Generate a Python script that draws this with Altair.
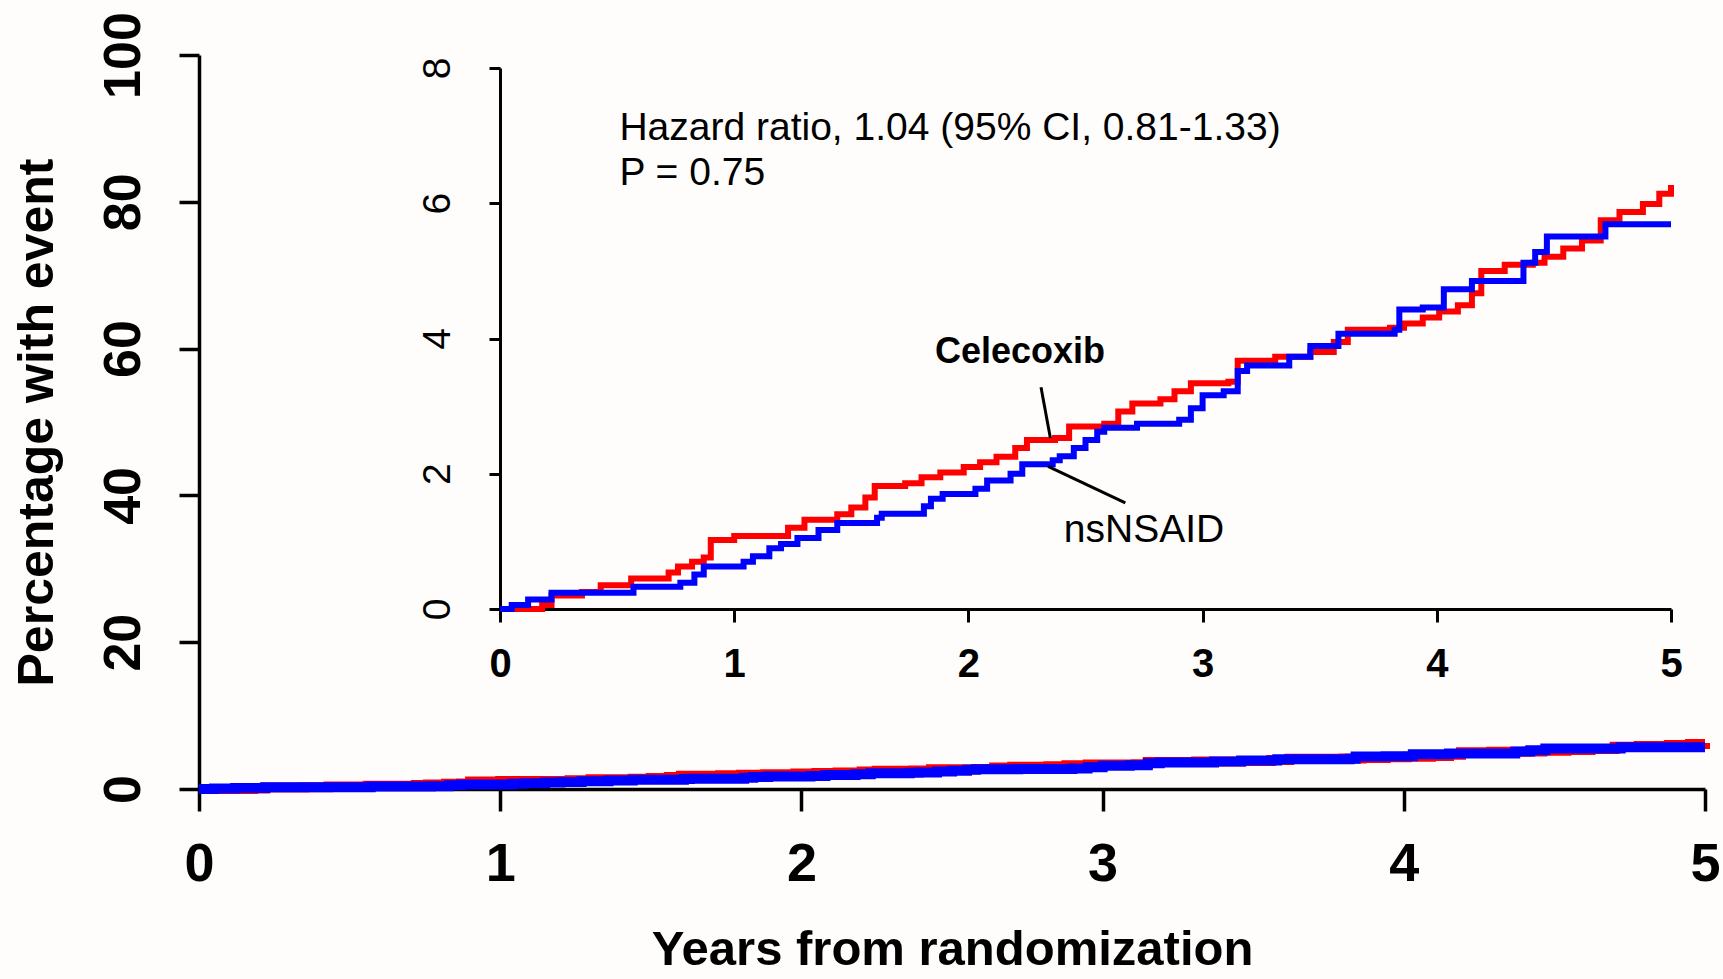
import altair as alt
import pandas as pd

# ---- data ----
cel_t = [0, 0.18, 0.22, 0.35, 0.43, 0.56, 0.72, 0.76, 0.82, 0.87, 0.90, 1.00, 1.23, 1.30, 1.44, 1.50,
         1.56, 1.60, 1.73, 1.80, 1.88, 1.98, 2.05, 2.12, 2.20, 2.25, 2.37, 2.43, 2.58, 2.64, 2.70,
         2.82, 2.88, 2.95, 3.11, 3.15, 3.31, 3.46, 3.56, 3.62, 3.80, 3.86, 3.94, 4.01, 4.09, 4.15,
         4.19, 4.29, 4.41, 4.46, 4.54, 4.62, 4.70, 4.78, 4.88, 4.95, 5.00]
cel_v = [0, 0.06, 0.20, 0.25, 0.35, 0.45, 0.54, 0.63, 0.70, 0.76, 1.02, 1.08, 1.20, 1.32, 1.40, 1.50,
         1.65, 1.82, 1.86, 1.95, 2.02, 2.10, 2.17, 2.25, 2.38, 2.50, 2.53, 2.70, 2.74, 2.92, 3.04,
         3.10, 3.22, 3.34, 3.36, 3.67, 3.73, 3.80, 3.95, 4.13, 4.16, 4.22, 4.31, 4.40, 4.49, 4.67,
         5.00, 5.09, 5.12, 5.21, 5.33, 5.45, 5.75, 5.87, 5.99, 6.14, 6.27]

ns_t = [0, 0.05, 0.12, 0.22, 0.57, 0.77, 0.83, 0.87, 1.04, 1.08, 1.15, 1.20, 1.27, 1.36, 1.44, 1.61,
        1.63, 1.81, 1.84, 1.89, 2.03, 2.08, 2.18, 2.23, 2.36, 2.39, 2.45, 2.50, 2.55, 2.58, 2.72,
        2.90, 2.95, 3.00, 3.09, 3.15, 3.19, 3.37, 3.46, 3.58, 3.82, 3.84, 3.94, 4.03, 4.15, 4.37,
        4.42, 4.47, 4.72, 5.00]
ns_v = [0, 0.06, 0.14, 0.24, 0.33, 0.39, 0.51, 0.63, 0.70, 0.78, 0.90, 0.96, 1.05, 1.17, 1.27, 1.35,
        1.41, 1.52, 1.63, 1.70, 1.78, 1.90, 2.00, 2.14, 2.20, 2.26, 2.38, 2.50, 2.62, 2.68, 2.74,
        2.80, 2.97, 3.16, 3.22, 3.52, 3.60, 3.73, 3.89, 4.07, 4.13, 4.43, 4.46, 4.73, 4.85, 5.12,
        5.28, 5.51, 5.69, 5.69]

main_x_ticks = [0, 1, 2, 3, 4, 5]
main_y_ticks = [0, 20, 40, 60, 80, 100]
inset_x_ticks = [0, 1, 2, 3, 4, 5]
inset_y_ticks = [0, 2, 4, 6, 8]

hr_lines = ["Hazard ratio, 1.04 (95% CI, 0.81-1.33)", "P = 0.75"]
hr_t = [0.51, 0.51]
hr_v = [7.12, 6.44]

lab_names = ["Celecoxib", "nsNSAID"]
lab_t = [2.22, 2.75]
lab_v = [3.80, 1.17]

lead_t1 = [2.31, 2.34]
lead_v1 = [3.28, 2.11]
lead_t2 = [2.35, 2.67]
lead_v2 = [2.53, 1.57]

RED = "#ff0000"
BLUE = "#0000ff"
FONT = "Liberation Sans, Arial, Helvetica, sans-serif"

W, H = 1506, 734
INSET_X_RANGE = [301, 1472]
INSET_Y_RANGE = [554, 13]

cel = pd.DataFrame({"t": cel_t, "v": cel_v})
ns = pd.DataFrame({"t": ns_t, "v": ns_v})
hr = pd.DataFrame({"t": hr_t, "v": hr_v, "label": hr_lines})
lab = pd.DataFrame({"t": lab_t, "v": lab_v, "label": lab_names})
lead = pd.DataFrame({"t": lead_t1, "v": lead_v1, "t2": lead_t2, "v2": lead_v2})

# ---- main chart ----
mx_scale = alt.Scale(domain=[0, 5], nice=False)
my_scale = alt.Scale(domain=[0, 100], nice=False)
mx_axis = alt.Axis(values=main_x_ticks, format="d", title="Years from randomization",
                   labelFont=FONT, labelFontSize=54, labelFontWeight="bold", labelColor="black",
                   labelPadding=26, labelFlush=False, tickSize=22, tickWidth=3.5, tickColor="black",
                   domainWidth=3.5, domainColor="black", grid=False,
                   titleFont=FONT, titleFontSize=49, titleFontWeight="bold", titleColor="black",
                   titlePadding=34)
my_axis = alt.Axis(values=main_y_ticks, format="d", title="Percentage with event",
                   labelFont=FONT, labelFontSize=52, labelFontWeight="bold", labelColor="black",
                   labelAngle=270, labelAlign="center", labelBaseline="alphabetic", labelFlush=False,
                   labelPadding=40, tickSize=20, tickWidth=3.5, tickColor="black",
                   domainWidth=3.5, domainColor="black", grid=False,
                   titleFont=FONT, titleFontSize=50, titleFontWeight="bold", titleColor="black",
                   titlePadding=35)

main_cel = alt.Chart(cel).mark_line(interpolate="step-after", color=RED, strokeWidth=10).encode(
    x=alt.X("t:Q", scale=mx_scale, axis=mx_axis),
    y=alt.Y("v:Q", scale=my_scale, axis=my_axis),
)
main_ns = alt.Chart(ns).mark_line(interpolate="step-after", color=BLUE, strokeWidth=10).encode(
    x=alt.X("t:Q", scale=mx_scale, axis=mx_axis),
    y=alt.Y("v:Q", scale=my_scale, axis=my_axis),
)
main = alt.layer(main_cel, main_ns)

# ---- inset chart ----
ix_scale = alt.Scale(domain=[0, 5], nice=False, range=INSET_X_RANGE)
iy_scale = alt.Scale(domain=[0, 8], nice=False, range=INSET_Y_RANGE)
ix_axis = alt.Axis(values=inset_x_ticks, format="d", title=None, orient="bottom", offset=-(H - INSET_Y_RANGE[0]),
                   labelFont=FONT, labelFontSize=40, labelFontWeight="bold", labelColor="black",
                   labelPadding=22, labelFlush=False, tickSize=13, tickWidth=3, tickColor="black",
                   domainWidth=3, domainColor="black", grid=False)
iy_axis = alt.Axis(values=inset_y_ticks, format="d", title=None, orient="left", offset=-INSET_X_RANGE[0],
                   labelFont=FONT, labelFontSize=39, labelFontWeight="normal", labelColor="black",
                   labelAngle=270, labelAlign="center", labelBaseline="alphabetic", labelFlush=False,
                   labelPadding=40, tickSize=11, tickWidth=3, tickColor="black",
                   domainWidth=3, domainColor="black", grid=False)

ix = alt.X("t:Q", scale=ix_scale, axis=ix_axis)
iy = alt.Y("v:Q", scale=iy_scale, axis=iy_axis)

in_cel = alt.Chart(cel).mark_line(interpolate="step-after", color=RED, strokeWidth=6).encode(x=ix, y=iy)
in_ns = alt.Chart(ns).mark_line(interpolate="step-after", color=BLUE, strokeWidth=6).encode(x=ix, y=iy)
leaders = alt.Chart(lead).mark_rule(color="black", strokeWidth=3).encode(
    x=ix, y=iy, x2="t2:Q", y2="v2:Q")
hr_text = alt.Chart(hr).mark_text(align="left", baseline="middle", font=FONT, fontSize=39,
                                  color="black").encode(x=ix, y=iy, text="label:N")
cel_text = alt.Chart(lab.iloc[[0]]).mark_text(align="center", baseline="middle", font=FONT, fontSize=36,
                                              fontWeight="bold", color="black").encode(x=ix, y=iy, text="label:N")
ns_text = alt.Chart(lab.iloc[[1]]).mark_text(align="center", baseline="middle", font=FONT, fontSize=39,
                                             color="black").encode(x=ix, y=iy, text="label:N")
inset = alt.layer(in_cel, in_ns, leaders, hr_text, cel_text, ns_text)

chart = alt.layer(main, inset).resolve_scale(x="independent", y="independent").properties(
    width=W, height=H,
    padding={"left": 199, "top": 55, "right": 18, "bottom": 190},
    autosize=alt.AutoSizeParams(type="none"),
    background="#fefdfb",
).configure_view(stroke=None)

chart.save("out.html", embed_options={"renderer": "svg", "actions": False})
